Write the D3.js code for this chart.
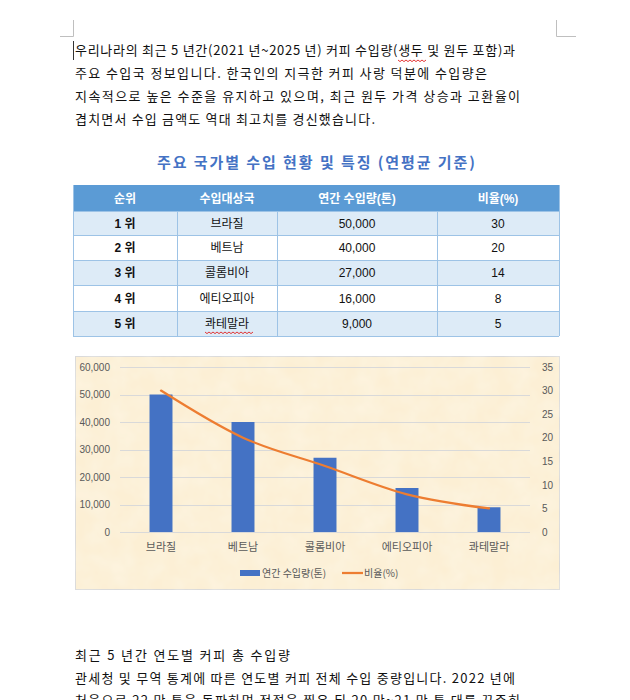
<!DOCTYPE html>
<html>
<head>
<meta charset="utf-8">
<script src="https://cdn.jsdelivr.net/npm/d3@7"></script>
<style>
  body { margin: 0; background: #fff; }
  svg { display: block; }
</style>
</head>
<body>
<div id="page"></div>
<script>
// text blocks
const introLines = [
  `우리나라의 최근 5 년간(2021 년~2025 년) 커피 수입량(생두 및 원두 포함)과`,
  `주요 수입국 정보입니다. 한국인의 지극한 커피 사랑 덕분에 수입량은`,
  `지속적으로 높은 수준을 유지하고 있으며, 최근 원두 가격 상승과 고환율이`,
  `겹치면서 수입 금액도 역대 최고치를 경신했습니다.`
]
const outroLines = [
  `최근 5 년간 연도별 커피 총 수입량`,
  `관세청 및 무역 통계에 따른 연도별 커피 전체 수입 중량입니다. 2022 년에`,
  `처음으로 22 만 톤을 돌파하며 정점을 찍은 뒤 20 만~21 만 톤 대를 꾸준히`
]
const tableTitle = `주요 국가별 수입 현황 및 특징 (연평균 기준)`

// table + chart data
const tableHeader = [`순위`, `수입대상국`, `연간 수입량(톤)`, `비율(%)`]
const ranks = [`1 위`, `2 위`, `3 위`, `4 위`, `5 위`]
const countries = [`브라질`, `베트남`, `콜롬비아`, `에티오피아`, `콰테말라`]
const volumes = [50000, 40000, 27000, 16000, 9000]
const ratios = [30, 20, 14, 8, 5]
const volumeTicks = [0, 10000, 20000, 30000, 40000, 50000, 60000]
const ratioTicks = [0, 5, 10, 15, 20, 25, 30, 35]
const legendLabels = [`연간 수입량(톤)`, `비율(%)`]

// layout (measured off the page)
const introWidths = [440, 412, 445, 300]
const outroWidths = [215, 440, 445]
const colEdges = [73, 177, 277, 437, 559]
const rowEdges = [185, 211, 235, 260, 285, 311, 336]

const blue = `#4472C4`, orange = `#ED7D31`, grey = `#595959`
const bodyFont = `"Noto Sans CJK KR", "Noto Sans", sans-serif`
const tableFont = `"Liberation Sans", "Noto Sans CJK KR", sans-serif`

const svg = d3.select(`#page`).append(`svg`)
  .attr(`width`, 630).attr(`height`, 700)
  .attr(`viewBox`, `0 0 630 700`)

// page corner marks + caret
const marks = svg.append(`g`).attr(`stroke`, `#bfbfbf`).attr(`stroke-width`, 1).attr(`fill`, `none`)
marks.append(`path`).attr(`d`, `M73.5,20 V36.5 H60`)
marks.append(`path`).attr(`d`, `M556.5,20 V36.5 H576`)
svg.append(`line`).attr(`x1`, 73.5).attr(`x2`, 73.5).attr(`y1`, 41).attr(`y2`, 60)
  .attr(`stroke`, `#333`).attr(`stroke-width`, 1)

// paragraph lines
function paragraph(lines, widths, y0, step) {
  svg.append(`g`).selectAll(`text`).data(lines).join(`text`)
    .attr(`x`, 75)
    .attr(`y`, (d, i) => y0 + i * step)
    .attr(`textLength`, (d, i) => widths[i])
    .attr(`lengthAdjust`, `spacing`)
    .attr(`font-family`, bodyFont)
    .attr(`font-size`, 13)
    .attr(`fill`, `#111`)
    .text(d => d)
}
paragraph(introLines, introWidths, 55, 23)
paragraph(outroLines, outroWidths, 660, 22.5)

// spell-check squiggles
function squiggle(x0, x1, y) {
  let d = `M${x0},${y}`
  for (let x = x0, k = 0; x < x1; x += 2, k++) d += ` L${x + 2},${y + (k % 2 ? 0 : 1.6)}`
  svg.append(`path`).attr(`d`, d).attr(`fill`, `none`).attr(`stroke`, `#e02020`).attr(`stroke-width`, 0.9)
}
squiggle(398, 426, 60)

// table title
svg.append(`text`)
  .attr(`x`, 157).attr(`y`, 168)
  .attr(`textLength`, 318)
  .attr(`lengthAdjust`, `spacing`)
  .attr(`font-family`, bodyFont)
  .attr(`font-size`, 15).attr(`font-weight`, `bold`)
  .attr(`fill`, blue)
  .text(tableTitle)

// table
const rows = ranks.map((r, i) => [r, countries[i], d3.format(`,`)(volumes[i]), String(ratios[i])])
const table = svg.append(`g`)

table.append(`rect`)
  .attr(`x`, colEdges[0]).attr(`y`, rowEdges[0])
  .attr(`width`, colEdges[4] - colEdges[0]).attr(`height`, rowEdges[1] - rowEdges[0])
  .attr(`fill`, `#5B9BD5`)

table.selectAll(`rect.row`).data(rows).join(`rect`)
  .attr(`class`, `row`)
  .attr(`x`, colEdges[0]).attr(`y`, (d, i) => rowEdges[i + 1])
  .attr(`width`, colEdges[4] - colEdges[0])
  .attr(`height`, (d, i) => rowEdges[i + 2] - rowEdges[i + 1])
  .attr(`fill`, (d, i) => i % 2 ? `#ffffff` : `#DDEBF7`)

// borders
const borders = table.append(`g`).attr(`stroke`, `#9DC3E6`).attr(`stroke-width`, 1)
rowEdges.slice(1).forEach(y => borders.append(`line`)
  .attr(`x1`, colEdges[0]).attr(`x2`, colEdges[4]).attr(`y1`, y + 0.5).attr(`y2`, y + 0.5))
colEdges.forEach((x, i) => borders.append(`line`)
  .attr(`x1`, x + 0.5).attr(`x2`, x + 0.5)
  .attr(`y1`, (i === 0 || i === 4) ? rowEdges[0] : rowEdges[1]).attr(`y2`, rowEdges[6]))

const colMid = i => (colEdges[i] + colEdges[i + 1]) / 2
table.selectAll(`text.head`).data(tableHeader).join(`text`)
  .attr(`class`, `head`)
  .attr(`x`, (d, i) => colMid(i)).attr(`y`, (rowEdges[0] + rowEdges[1]) / 2 + 4.5)
  .attr(`text-anchor`, `middle`)
  .attr(`font-family`, tableFont).attr(`font-size`, 12).attr(`font-weight`, `bold`)
  .attr(`fill`, `#fff`)
  .text(d => d)

rows.forEach((row, r) => {
  table.selectAll(null).data(row).join(`text`)
    .attr(`x`, (d, i) => colMid(i)).attr(`y`, (rowEdges[r + 1] + rowEdges[r + 2]) / 2 + 4.5)
    .attr(`text-anchor`, `middle`)
    .attr(`font-family`, tableFont).attr(`font-size`, 12)
    .attr(`font-weight`, (d, i) => i === 0 ? `bold` : `normal`)
    .attr(`fill`, `#111`)
    .text(d => d)
})
squiggle(205, 253, 332)

///////////////////////////////////////////////////////////////////////////////
//// CHART
///////////////////////////////////////////////////////////////////////////////

const box = { x: 75, y: 356, w: 484, h: 233 }
const plot = { left: 120, right: 530, top: 367, bottom: 532 }

const defs = svg.append(`defs`)
const paper = defs.append(`filter`).attr(`id`, `paper`).attr(`x`, 0).attr(`y`, 0).attr(`width`, 1).attr(`height`, 1)
paper.append(`feTurbulence`).attr(`type`, `fractalNoise`).attr(`baseFrequency`, 0.045).attr(`numOctaves`, 3).attr(`seed`, 4)
paper.append(`feColorMatrix`).attr(`values`, `0 0 0 0 1  0 0 0 0 1  0 0 0 0 0.95  0 0 0 0.4 -0.1`)
paper.append(`feComposite`).attr(`in2`, `SourceGraphic`).attr(`operator`, `over`)

const chart = svg.append(`g`)
chart.append(`rect`)
  .attr(`x`, box.x + 0.5).attr(`y`, box.y + 0.5).attr(`width`, box.w).attr(`height`, box.h)
  .attr(`fill`, `#FCEFD4`).attr(`stroke`, `#D9D9D9`)
  .attr(`filter`, `url(#paper)`)

const x = d3.scaleBand().domain(countries).range([plot.left, plot.right])
const yL = d3.scaleLinear().domain([0, 60000]).range([plot.bottom, plot.top])
const yR = d3.scaleLinear().domain([0, 35]).range([plot.bottom, plot.top])

// gridlines
chart.append(`g`).selectAll(`line`).data(volumeTicks).join(`line`)
  .attr(`x1`, plot.left).attr(`x2`, plot.right)
  .attr(`y1`, d => Math.round(yL(d)) + 0.5).attr(`y2`, d => Math.round(yL(d)) + 0.5)
  .attr(`stroke`, `#D9D9D9`).attr(`stroke-width`, 1)

// axes
const styleAxis = g => {
  g.select(`.domain`).remove()
  g.selectAll(`.tick line`).remove()
  g.selectAll(`text`).attr(`fill`, grey).attr(`font-family`, tableFont).attr(`font-size`, 10)
}
chart.append(`g`).attr(`transform`, `translate(${plot.left - 10},0)`)
  .call(d3.axisLeft(yL).tickValues(volumeTicks).tickFormat(d3.format(`,`)).tickSize(0).tickPadding(0))
  .call(styleAxis)
chart.append(`g`).attr(`transform`, `translate(${plot.right + 12},0)`)
  .call(d3.axisRight(yR).tickValues(ratioTicks).tickSize(0).tickPadding(0))
  .call(styleAxis)
chart.append(`g`).attr(`transform`, `translate(0,${plot.bottom + 11})`)
  .call(d3.axisBottom(x).tickSize(0).tickPadding(0))
  .call(styleAxis)
  .call(g => g.selectAll(`text`).attr(`font-family`, bodyFont).attr(`font-size`, 11).attr(`dy`, `0.7em`))

// bars
const barW = x.bandwidth() * 0.28
chart.append(`g`).selectAll(`rect`).data(countries).join(`rect`)
  .attr(`x`, d => x(d) + x.bandwidth() / 2 - barW / 2)
  .attr(`y`, (d, i) => yL(volumes[i]))
  .attr(`width`, barW)
  .attr(`height`, (d, i) => plot.bottom - yL(volumes[i]))
  .attr(`fill`, blue)

// ratio line (smoothed like the office chart)
const line = d3.line()
  .x((d, i) => x(countries[i]) + x.bandwidth() / 2)
  .y(d => yR(d))
  .curve(d3.curveCardinal.tension(0))
chart.append(`path`)
  .attr(`d`, line(ratios))
  .attr(`fill`, `none`).attr(`stroke`, orange).attr(`stroke-width`, 2.25)
  .attr(`stroke-linecap`, `round`)

// legend
const legend = chart.append(`g`).attr(`font-family`, bodyFont).attr(`font-size`, 10).attr(`fill`, grey)
legend.append(`rect`).attr(`x`, 240).attr(`y`, 570).attr(`width`, 20).attr(`height`, 6).attr(`fill`, blue)
legend.append(`text`).attr(`x`, 262).attr(`y`, 577).text(legendLabels[0])
legend.append(`line`).attr(`x1`, 342).attr(`x2`, 363).attr(`y1`, 573).attr(`y2`, 573)
  .attr(`stroke`, orange).attr(`stroke-width`, 2.25)
legend.append(`text`).attr(`x`, 364).attr(`y`, 577).text(legendLabels[1])
</script>
</body>
</html>
